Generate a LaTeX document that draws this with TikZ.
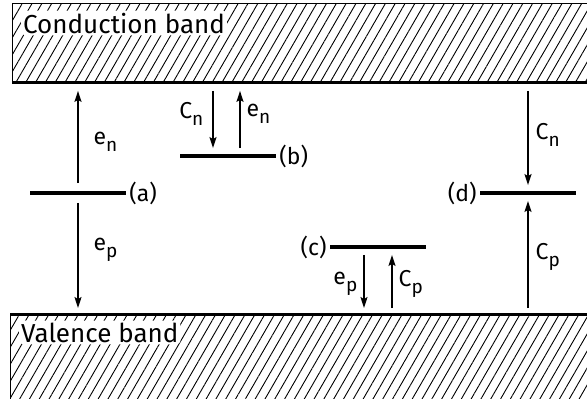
\documentclass[tikz,border=0pt]{standalone}
\usepackage{fontspec}
\setmainfont{Fira Sans}
\usetikzlibrary{arrows.meta, positioning, patterns.meta}
\newcommand{\lowsub}[1]{\raisebox{-0.3em}{\fontsize{19}{20}\selectfont #1}}

\begin{document}
\begin{tikzpicture}[
    x=1pt, y=-1pt,
    band/.style={rectangle, draw, line width=0.8pt, inner sep=0pt, anchor=north west,
        pattern={Lines[angle=60, distance=8.5pt, line width=0.9pt]}},
    bandline/.style={line width=3pt},
    bandname/.style={font=\fontsize{26}{30}\selectfont, fill=white, rounded corners=4pt, inner sep=2pt, anchor=base west},
    trap/.style={rectangle, fill=black, inner sep=0pt, minimum width=96pt, minimum height=3.5pt},
    tag/.style={font=\fontsize{23}{26}\selectfont, inner sep=1pt},
    rate/.style={font=\fontsize{23}{26}\selectfont, inner sep=1pt},
    arrow/.style={line width=1.4pt, -{Stealth[length=11pt, width=7pt, inset=2pt]}}
]
\useasboundingbox (0,0) rectangle (587,399);
\clip (0,0) rectangle (587,399);

% bands
\node[band, minimum width=585pt, minimum height=79pt] (cb) at (12,3) {};
\node[band, minimum width=585pt, minimum height=85pt] (vb) at (10,314) {};
\draw[bandline] (cb.south west) -- (cb.south east);
\draw[bandline] (vb.north west) -- (vb.north east);
\node[bandname] (cbname) at (21,33) {Conduction band};
\node[bandname] (vbname) at (19,342) {Valence band};

% trap levels
\node[trap] (ta) at (78,193) {};
\node[tag, right=2pt of ta] (la) {(a)};
\node[trap] (tb) at (228,156) {};
\node[tag, right=2pt of tb] (lb) {(b)};
\node[trap] (tc) at (378,247) {};
\node[tag, left=2pt of tc] (lc) {(c)};
\node[trap] (td) at (528,193) {};
\node[tag, left=2pt of td] (ld) {(d)};

% (a)
\draw[arrow] ([yshift=8pt]ta.north) -- ([yshift=-8pt]ta.north |- cb.south)
    node[rate, right=14pt, pos=0.45] {e\lowsub{n}};
\draw[arrow] ([yshift=-8pt]ta.south) -- ([yshift=6pt]ta.south |- vb.north)
    node[rate, right=14pt, pos=0.45] {e\lowsub{p}};

% (b)
\draw[arrow] ([xshift=-15pt, yshift=-8pt]tb.north |- cb.south) -- ([xshift=-15pt, yshift=6pt]tb.north)
    node[rate, left=8pt, pos=0.4] {C\lowsub{n}};
\draw[arrow] ([xshift=12pt, yshift=6pt]tb.north) -- ([xshift=12pt, yshift=-8pt]tb.north |- cb.south)
    node[rate, right=5pt, pos=0.6] {e\lowsub{n}};

% (c)
\draw[arrow] ([xshift=-14pt, yshift=-6pt]tc.south) -- ([xshift=-14pt, yshift=6pt]tc.south |- vb.north)
    node[rate, left=5pt, pos=0.55] {e\lowsub{p}};
\draw[arrow] ([xshift=14pt, yshift=6pt]tc.south |- vb.north) -- ([xshift=14pt, yshift=-6pt]tc.south)
    node[rate, right=5pt, pos=0.45] {C\lowsub{p}};

% (d)
\draw[arrow] ([yshift=-8pt]td.north |- cb.south) -- ([yshift=6pt]td.north)
    node[rate, right=6pt, pos=0.47] {C\lowsub{n}};
\draw[arrow] ([yshift=6pt]td.south |- vb.north) -- ([yshift=-6pt]td.south)
    node[rate, right=6pt, pos=0.48] {C\lowsub{p}};
\end{tikzpicture}
\end{document}
